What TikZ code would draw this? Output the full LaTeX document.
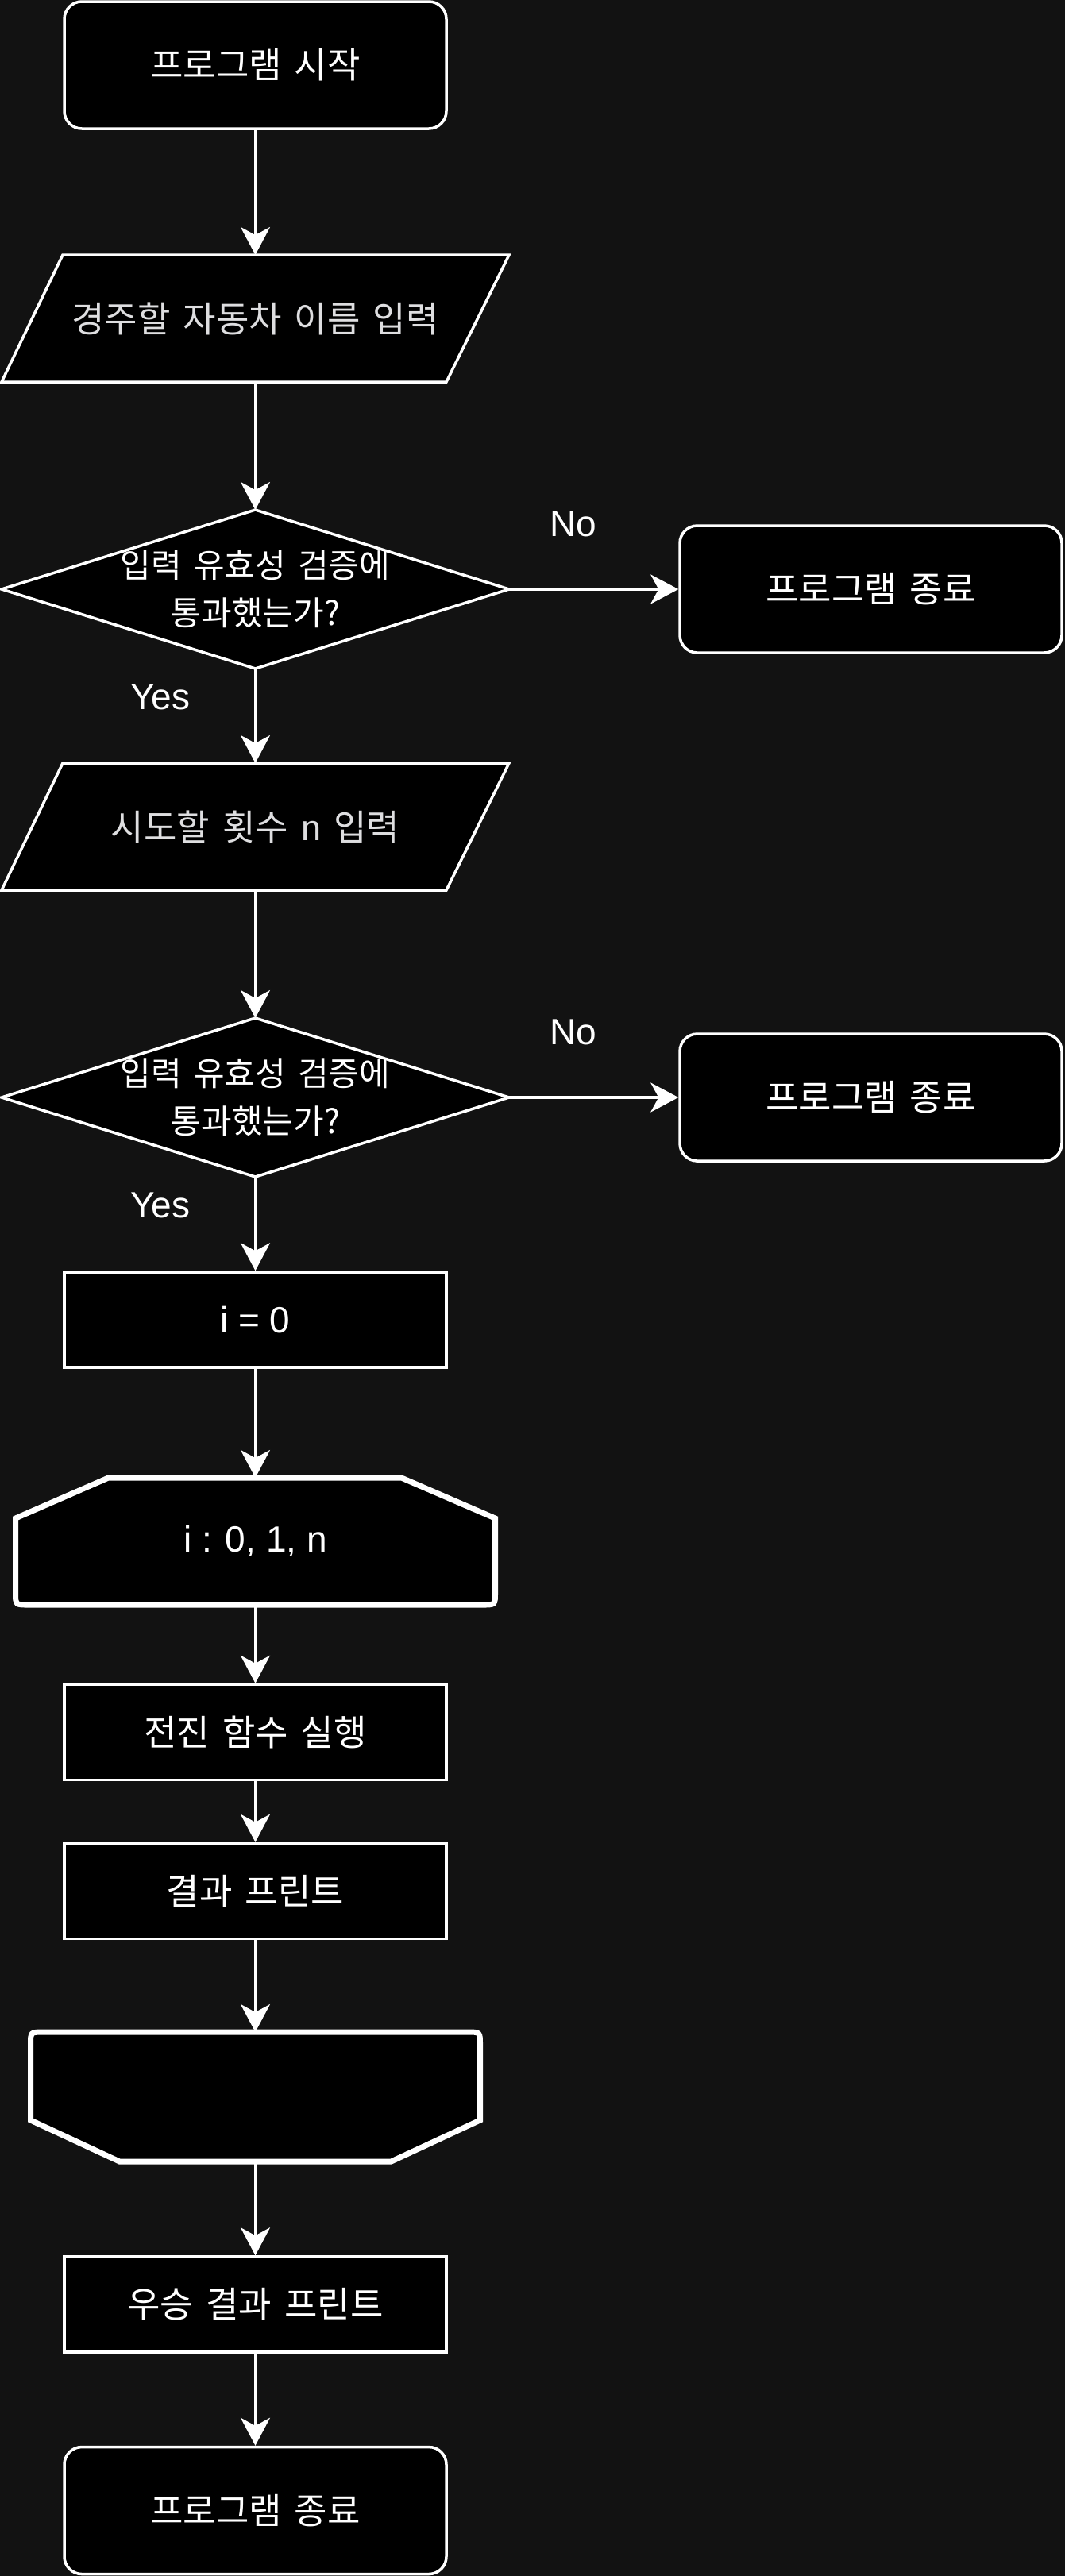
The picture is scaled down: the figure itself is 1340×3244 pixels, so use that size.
\documentclass[tikz,border=0pt]{standalone}
\usepackage{fontspec}
\newfontfamily\kr[WordSpace=1.6]{Noto Sans CJK KR}
\newfontfamily\lat{Liberation Sans}
\usetikzlibrary{arrows.meta,calc}
\definecolor{bg}{RGB}{18,18,18}
\definecolor{gtxt}{RGB}{222,222,224}
\pgfdeclarelayer{bgl}
\pgfdeclarelayer{shp}
\pgfsetlayers{bgl,shp,main}
\begin{document}
\begin{tikzpicture}[x=0.5pt,y=-0.5pt,
  txt/.style={font=\kr\fontsize{22.5pt}{27pt}\selectfont, text=white, inner sep=0pt, align=center},
  dtxt/.style={font=\kr\fontsize{21pt}{30pt}\selectfont, text=white, inner sep=0pt, align=center},
  ltxt/.style={font=\lat\fontsize{23pt}{27pt}\selectfont},
  procbox/.style={txt, draw=white, fill=black, line width=1.75pt, minimum width=240.5pt, minimum height=60pt},
  termbox/.style={procbox, rounded corners=11pt, minimum height=80pt},
  framebox/.style={txt, draw=none, outer sep=0pt},
  outl/.style={draw=white, fill=black, line width=1.75pt, line join=miter},
  loopl/.style={draw=white, fill=black, line width=3.5pt, line join=miter},
  conn/.style={draw=white, line width=1.75pt, -{Stealth[length=17.5pt,width=18.5pt,inset=5pt]}},
  lbl/.style={font=\lat\fontsize{23pt}{27pt}\selectfont, text=white, inner sep=0pt}
]
\useasboundingbox (0,0) rectangle (1340,3244);
\begin{pgfonlayer}{bgl}
  \fill[bg] (-20,-20) rectangle (1360,3264);
\end{pgfonlayer}

% nodes
\node[termbox] (start) at (321.5,82) {프로그램 시작};
\node[framebox, text=gtxt, minimum width=319.5pt, minimum height=80pt] (in1) at (321.5,401) {경주할 자동차 이름 입력};
\node[framebox, dtxt, minimum width=319.5pt, minimum height=100pt] (d1) at (321.5,742) {입력 유효성 검증에\\통과했는가?};
\node[termbox] (end1) at (1096.5,742) {프로그램 종료};
\node[lbl] (no1) at (722,660) {No};
\node[lbl] (yes1) at (202,878) {Yes};

\node[framebox, text=gtxt, minimum width=319.5pt, minimum height=80pt] (in2) at (321.5,1041) {시도할 횟수 {\lat n} 입력};
\node[framebox, dtxt, minimum width=319.5pt, minimum height=100pt] (d2) at (321.5,1382) {입력 유효성 검증에\\통과했는가?};
\node[termbox] (end2) at (1096.5,1382) {프로그램 종료};
\node[lbl] (no2) at (722,1300) {No};
\node[lbl] (yes2) at (202,1518) {Yes};

\node[procbox, ltxt] (i0) at (321.5,1662) {i = 0};
\node[framebox, ltxt, minimum width=302pt, minimum height=80pt] (ls) at (321.5,1941) {i : 0, 1, n};
\node[procbox] (fwd) at (321.5,2181.5) {전진 함수 실행};
\node[procbox] (prt) at (321.5,2381.5) {결과 프린트};
\node[framebox, minimum width=283pt, minimum height=81.5pt] (le) at (321.5,2640.5) {};
\node[procbox] (win) at (321.5,2902) {우승 결과 프린트};
\node[termbox] (endf) at (321.5,3161.5) {프로그램 종료};

% custom shapes
\begin{pgfonlayer}{shp}
  \draw[outl] ($(in1.north west)+(77,0)$) -- (in1.north east) -- ($(in1.south east)+(-79,0)$) -- (in1.south west) -- cycle;
  \draw[outl] ($(in2.north west)+(77,0)$) -- (in2.north east) -- ($(in2.south east)+(-79,0)$) -- (in2.south west) -- cycle;
  \draw[outl] (d1.north) -- (d1.east) -- (d1.south) -- (d1.west) -- cycle;
  \draw[outl] (d2.north) -- (d2.east) -- (d2.south) -- (d2.west) -- cycle;
  \draw[loopl] ($(ls.north west)+(0,51)$) -- ($(ls.north west)+(117,0)$) -- ($(ls.north east)+(-118,0)$) -- ($(ls.north east)+(0,51)$)
     -- ($(ls.south east)+(0,-16)$) .. controls (ls.south east) .. ($(ls.south east)+(-16,0)$)
     -- ($(ls.south west)+(16,0)$) .. controls (ls.south west) .. ($(ls.south west)+(0,-16)$) -- cycle;
  \draw[loopl] ($(le.south west)+(0,-52)$) -- ($(le.north west)+(0,16)$) .. controls (le.north west) .. ($(le.north west)+(16,0)$)
     -- ($(le.north east)+(-16,0)$) .. controls (le.north east) .. ($(le.north east)+(0,16)$)
     -- ($(le.south east)+(0,-52)$) -- ($(le.south east)+(-112,0)$) -- ($(le.south west)+(112,0)$) -- cycle;
\end{pgfonlayer}

% connectors
\draw[conn] (start) -- (in1);
\draw[conn] (in1) -- (d1);
\draw[conn] (d1) -- (end1);
\draw[conn] (d1) -- (in2);
\draw[conn] (in2) -- (d2);
\draw[conn] (d2) -- (end2);
\draw[conn] (d2) -- (i0);
\draw[conn] (i0) -- (ls);
\draw[conn] (ls) -- (fwd);
\draw[conn] (fwd) -- (prt);
\draw[conn] (prt) -- (le);
\draw[conn] (le) -- (win);
\draw[conn] (win) -- (endf);
\end{tikzpicture}
\end{document}
